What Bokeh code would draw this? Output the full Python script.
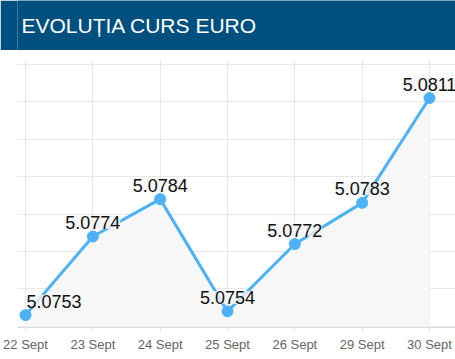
from bokeh.plotting import figure
from bokeh.models import ColumnDataSource, LabelSet, Label, FixedTicker, Range1d
from bokeh.core.properties import value
from bokeh.layouts import column
from bokeh.embed import file_html
from bokeh.resources import INLINE

title_text = "EVOLUȚIA CURS EURO"
dates = ["22 Sept", "23 Sept", "24 Sept", "25 Sept", "26 Sept", "29 Sept", "30 Sept"]
rates = [5.0753, 5.0774, 5.0784, 5.0754, 5.0772, 5.0783, 5.0811]
y_ticks = [5.075, 5.076, 5.077, 5.078, 5.079, 5.080, 5.081, 5.082]

BLUE = "#4db1f5"
GRID = "#e8e8e8"
FONT = "Liberation Sans"

# header bar
h = figure(width=455, height=50, output_backend="svg", toolbar_location=None,
           x_range=(0, 1), y_range=(0, 1), min_border=0,
           min_border_left=0, min_border_right=0, min_border_top=0, min_border_bottom=0)
h.axis.visible = False
h.grid.visible = False
h.outline_line_color = None
h.background_fill_color = "#00507f"
h.border_fill_color = "#00507f"
h.add_layout(Label(x=4, y=25.5, x_units="screen", y_units="screen", text=title_text,
                   text_color="white", text_font=FONT, text_font_size="21px",
                   text_baseline="middle"))

x = list(range(len(dates)))
src = ColumnDataSource(dict(x=x, y=rates, lab=[f"{v:.4f}" for v in rates],
                            base=[y_ticks[0]] * len(rates)))

p = figure(width=455, height=309, output_backend="svg", toolbar_location=None,
           x_range=Range1d(-0.119, 6.386), y_range=Range1d(5.07497, 5.08213),
           min_border_left=17, min_border_right=0, min_border_top=9, min_border_bottom=32)
p.outline_line_color = None
p.yaxis.visible = False
p.ygrid.ticker = FixedTicker(ticks=y_ticks)
p.ygrid.grid_line_color = GRID
p.xgrid.ticker = FixedTicker(ticks=x)
p.xgrid.grid_line_color = GRID

p.xaxis.ticker = FixedTicker(ticks=x)
p.xaxis.major_label_overrides = {i: d for i, d in enumerate(dates)}
p.xaxis.axis_line_color = "#dddddd"
p.xaxis.major_tick_line_color = GRID
p.xaxis.major_tick_out = 5
p.xaxis.major_tick_in = 0
p.xaxis.minor_tick_line_color = None
p.xaxis.major_label_text_font = FONT
p.xaxis.major_label_text_font_size = "13px"
p.xaxis.major_label_text_color = "#666666"
p.xaxis.major_label_standoff = 4

p.varea(x="x", y1="base", y2="y", source=src, fill_color="#f7f7f7")
p.line(x="x", y="y", source=src, line_color=BLUE, line_width=3)
p.scatter(x="x", y="y", source=src, size=11, fill_color=BLUE, line_color=BLUE)

labels_mid = LabelSet(x="x", y="y", text="lab", source=ColumnDataSource(
    dict(x=x[1:], y=rates[1:], lab=[f"{v:.4f}" for v in rates[1:]])),
    y_offset=14, text_align="center", text_baseline="middle", text_font=value(FONT),
    text_font_size="18px", text_color="#111111",
    background_fill_color="#f4f4f4", background_fill_alpha=0.8)
labels_first = LabelSet(x="x", y="y", text="lab", source=ColumnDataSource(
    dict(x=x[:1], y=rates[:1], lab=[f"{rates[0]:.4f}"])),
    x_offset=1, y_offset=14, text_align="left", text_baseline="middle", text_font=value(FONT),
    text_font_size="18px", text_color="#111111",
    background_fill_color="#f4f4f4", background_fill_alpha=0.8)
p.add_layout(labels_mid)
p.add_layout(labels_first)

layout = column(h, p, spacing=0)
open("out.html", "w").write(file_html(layout, INLINE))
